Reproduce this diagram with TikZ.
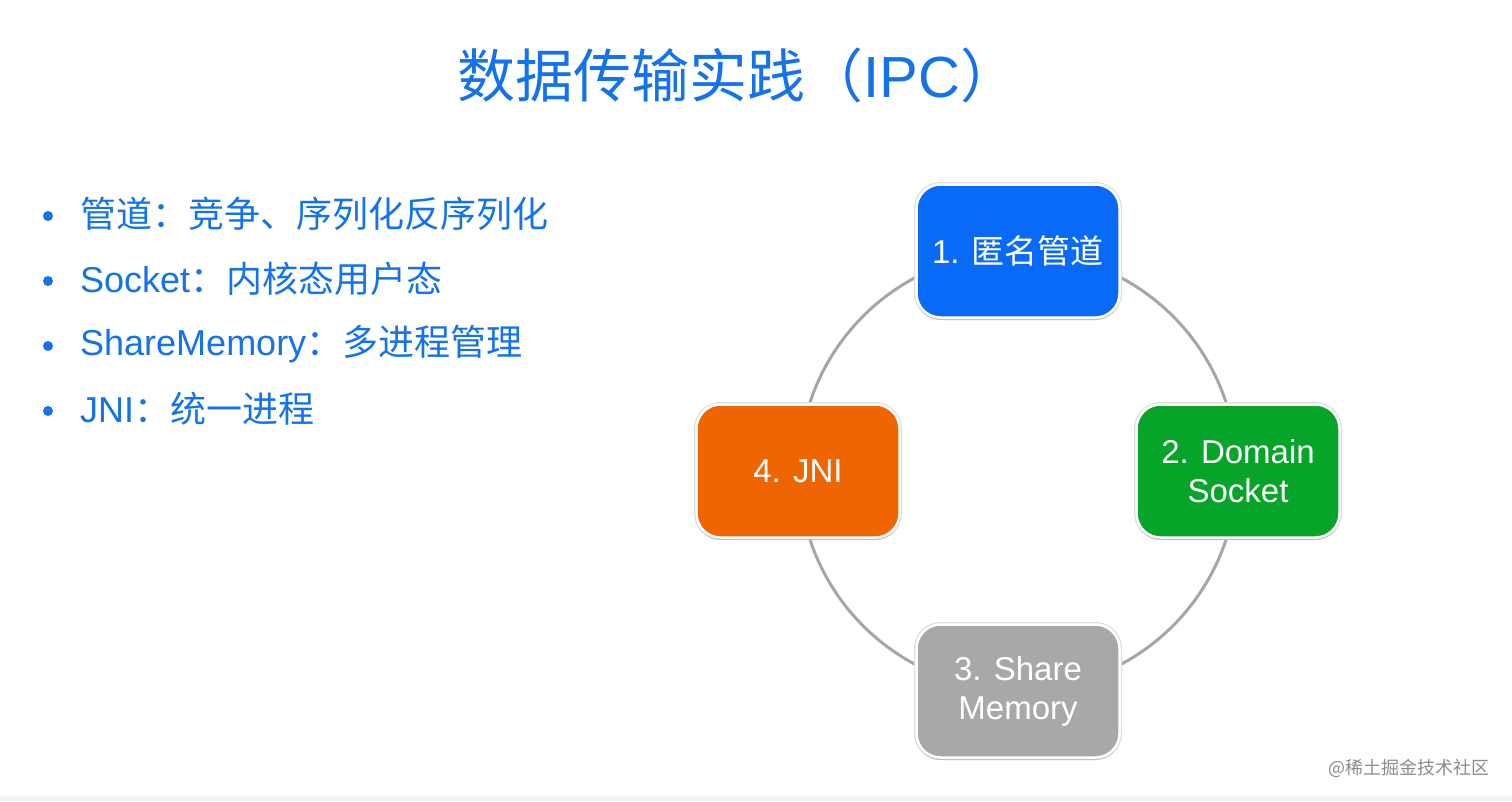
\documentclass[tikz,border=0pt]{standalone}
\usepackage{fontspec}
\setmainfont{Liberation Sans}
\newfontfamily\cjk{Noto Sans CJK SC}
\usetikzlibrary{shadows}
\definecolor{titleblue}{HTML}{1473EA}
\definecolor{boxblue}{HTML}{0A6AF8}
\definecolor{boxgreen}{HTML}{06A529}
\definecolor{boxgray}{HTML}{A8A8A8}
\definecolor{boxorange}{HTML}{EE6502}
\definecolor{ringgray}{HTML}{A6A6A6}
\tikzset{
  card/.style={rounded corners=24pt, minimum width=203pt, minimum height=133pt,
    draw=white, line width=2.5pt, text=white, align=center,
    font=\fontsize{33}{39}\selectfont,
    preaction={draw=black!13, line width=5pt},
    drop shadow={shadow xshift=0pt, shadow yshift=-2.5pt, opacity=0.3, fill=gray}},
  bullettext/.style={anchor=west, text=titleblue, font=\fontsize{36}{40}\selectfont, inner sep=0pt},
  dot/.style={circle, fill=titleblue, inner sep=0pt, minimum size=10pt},
}
\begin{document}
\begin{tikzpicture}[x=1pt,y=-1pt]
\useasboundingbox (0,0) rectangle (1512,801);
\fill[white] (0,0) rectangle (1512,801);
\fill[black!5] (0,796) rectangle (1512,801);

% title
\node[text=titleblue, font=\fontsize{58}{62}\selectfont, inner sep=0pt] (title) at (738,75)
  {\cjk 数据传输实践（\fontspec{Liberation Sans}IPC\cjk ）};

% bullets
\node[dot] (d1) at (48,216) {};
\node[bullettext] (b1) at (80,214) {\cjk 管道：竞争、序列化反序列化};
\node[dot] (d2) at (48,281) {};
\node[bullettext] (b2) at (80,279) {Socket{\cjk ：内核态用户态}};
\node[dot] (d3) at (48,346) {};
\node[bullettext] (b3) at (80,344) {ShareMemory{\cjk ：多进程管理}};
\node[dot] (d4) at (48,411) {};
\node[bullettext] (b4) at (80,409) {JNI{\cjk ：统一进程}};

% ring
\coordinate (ctr) at (1018,471);
\draw[ringgray, line width=3pt] (ctr) circle[radius=219];

% cards
\node[card, fill=boxblue] (c1) at (1018,251) {1. {\cjk 匿名管道}};
\node[card, fill=boxgreen] (c2) at (1238,471) {2. Domain\\Socket};
\node[card, fill=boxgray] (c3) at (1018,691) {3. Share\\Memory};
\node[card, fill=boxorange] (c4) at (798,471) {4. JNI};

% watermark
\node[text=black!45, font=\cjk\fontsize{18}{20}\selectfont, anchor=east, inner sep=0pt] (wm) at (1490,768) {@稀土掘金技术社区};
\end{tikzpicture}
\end{document}
